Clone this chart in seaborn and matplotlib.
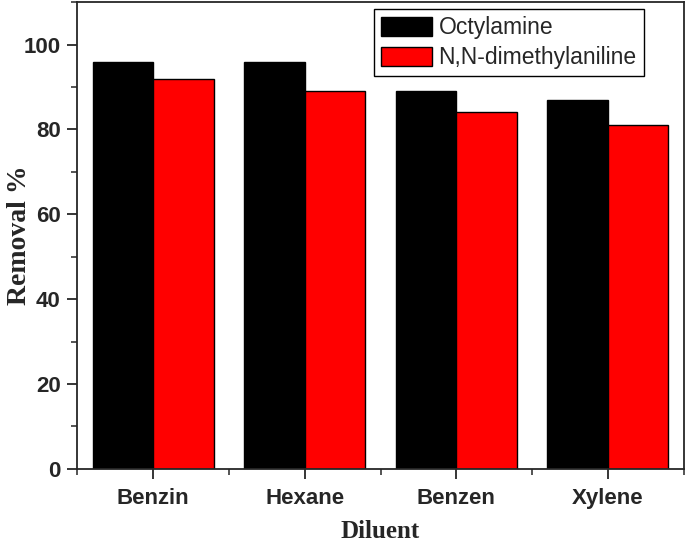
import pandas as pd
import seaborn as sns
import matplotlib.pyplot as plt
from matplotlib.ticker import MultipleLocator

diluents = ["Benzin", "Hexane", "Benzen", "Xylene"]
octylamine = [96, 96, 89, 87]
dimethylaniline = [92, 89, 84, 81]
series_names = ["Octylamine", "N,N-dimethylaniline"]

df = pd.DataFrame({
    "Diluent": diluents * 2,
    "Removal": octylamine + dimethylaniline,
    "Extractant": [series_names[0]] * 4 + [series_names[1]] * 4,
})

sns.set_style("ticks")
fig = plt.figure(figsize=(6.85, 5.44), dpi=100)
ax = fig.add_axes([0.113, 0.138, 0.885, 0.858])

sns.barplot(data=df, x="Diluent", y="Removal", hue="Extractant",
            palette=["#000000", "#ff0000"], edgecolor="black", linewidth=1,
            width=0.8, saturation=1, ax=ax)

ax.set_xlim(-0.5, 3.5)
ax.set_ylim(0, 110)
ax.yaxis.set_major_locator(MultipleLocator(20))
ax.yaxis.set_minor_locator(MultipleLocator(10))
ax.xaxis.set_minor_locator(MultipleLocator(0.5))
ax.tick_params(which="major", direction="out", length=7, width=1.3)
ax.tick_params(which="minor", direction="out", length=4, width=1.1)
for s in ax.spines.values():
    s.set_linewidth(1.3)
    s.set_visible(True)

for lab in ax.get_xticklabels() + ax.get_yticklabels():
    lab.set_fontfamily("Liberation Sans")
    lab.set_fontweight("bold")
    lab.set_fontsize(16)
ax.tick_params(axis="x", pad=7)
ax.tick_params(axis="y", pad=5)

ax.set_xlabel("Diluent", fontfamily="Liberation Serif", fontweight="bold",
              fontsize=18)
ax.set_ylabel("Removal %", fontfamily="Liberation Serif", fontweight="bold",
              fontsize=20)
ax.xaxis.set_label_coords(0.5, -0.133)
ax.yaxis.set_label_coords(-0.096, 0.5)
ax.xaxis.label.set_va("center")
ax.yaxis.label.set_va("center")

leg = ax.legend(loc="upper right", bbox_to_anchor=(0.934, 0.985),
                borderaxespad=0,
                prop={"family": "Liberation Sans", "size": 16.5},
                handlelength=2.2, handleheight=0.9, handletextpad=0.3,
                labelspacing=0.3, borderpad=0.3, fancybox=False,
                edgecolor="black", framealpha=1, title=None)
leg.get_frame().set_linewidth(1)

fig.savefig("out.png", dpi=100)
